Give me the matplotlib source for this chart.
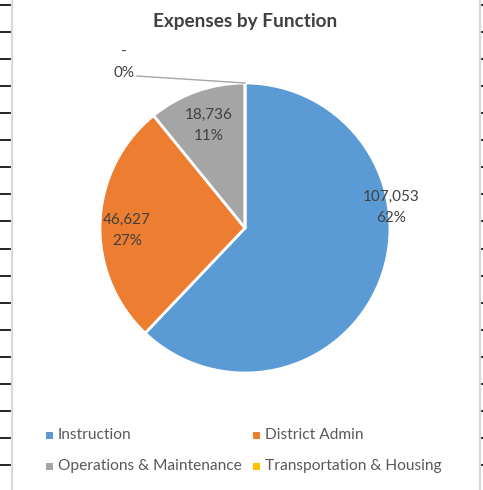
import matplotlib
matplotlib.use("Agg")
import matplotlib.pyplot as plt
from matplotlib.lines import Line2D
from matplotlib.patches import Rectangle

plt.rcParams['font.family'] = ['Lato', 'DejaVu Sans']

# ---- data ----
categories = ["Instruction", "District Admin", "Operations & Maintenance", "Transportation & Housing"]
values = [107053, 46627, 18736, 0]
value_labels = ["107,053", "46,627", "18,736", "-"]
colors = ["#5B9BD5", "#ED7D31", "#A5A5A5", "#FFC000"]
title = "Expenses by Function"

# label positions in pie units (radius = 1)
label_pos = [(1.01, 0.145), (-0.815, -0.02), (-0.25, 0.705), (-0.835, 1.14)]

W, H = 483, 490
fig = plt.figure(figsize=(W / 100, H / 100), dpi=100)
fig.patch.set_facecolor("white")

# spreadsheet background decorations
for i in range(18):
    y = 1 - (5 + 27.06 * i) / H
    fig.add_artist(Line2D([0, 10.5 / W], [y, y], color="black", lw=1.2))
    fig.add_artist(Line2D([480 / W, 1], [y, y], color="black", lw=1.2))
fig.add_artist(Line2D([11.5 / W, 11.5 / W], [0, 1], color="#D9D9D9", lw=1.6))
fig.add_artist(Line2D([479.5 / W, 479.5 / W], [0, 1], color="#D9D9D9", lw=1.6))

# title
fig.text(245 / W, 1 - 21 / H, title, ha="center", va="center",
         fontsize=13.7, fontweight="bold", color="#404040")

# pie
cx, cy, r = 245, 228, 145
ax = fig.add_axes([(cx - r) / W, 1 - (cy + r) / H, 2 * r / W, 2 * r / H])
total = sum(values)
wedges, _ = ax.pie(values, colors=colors, startangle=90, counterclock=False,
                   radius=1.0, wedgeprops=dict(edgecolor="white", linewidth=2))
ax.set_xlim(-1, 1)
ax.set_ylim(-1, 1)
ax.set_aspect("equal")
ax.axis("off")

for v, lab, (lx, ly) in zip(values, value_labels, label_pos):
    pct = f"{round(100 * v / total):d}%"
    ax.text(lx, ly, f"{lab}\n{pct}", ha="center", va="center", fontsize=11,
            color="#404040", linespacing=1.65, clip_on=False)

# leader line for zero slice
ax.add_artist(Line2D([-0.745, 0.0], [1.048, 1.0], color="#A6A6A6", lw=1.0, clip_on=False))

# legend
leg_x = [49, 256]
leg_y = [435, 466]
for i, (cat, col) in enumerate(zip(categories, colors)):
    x = leg_x[i % 2]
    y = leg_y[i // 2]
    fig.add_artist(Rectangle(((x - 3.5) / W, 1 - (y + 3.5) / H), 7 / W, 7 / H,
                             facecolor=col, edgecolor="none"))
    fig.text((x + 9) / W, 1 - y / H, cat, ha="left", va="center",
             fontsize=11.2, color="#595959")

fig.savefig("out.png", dpi=100)
